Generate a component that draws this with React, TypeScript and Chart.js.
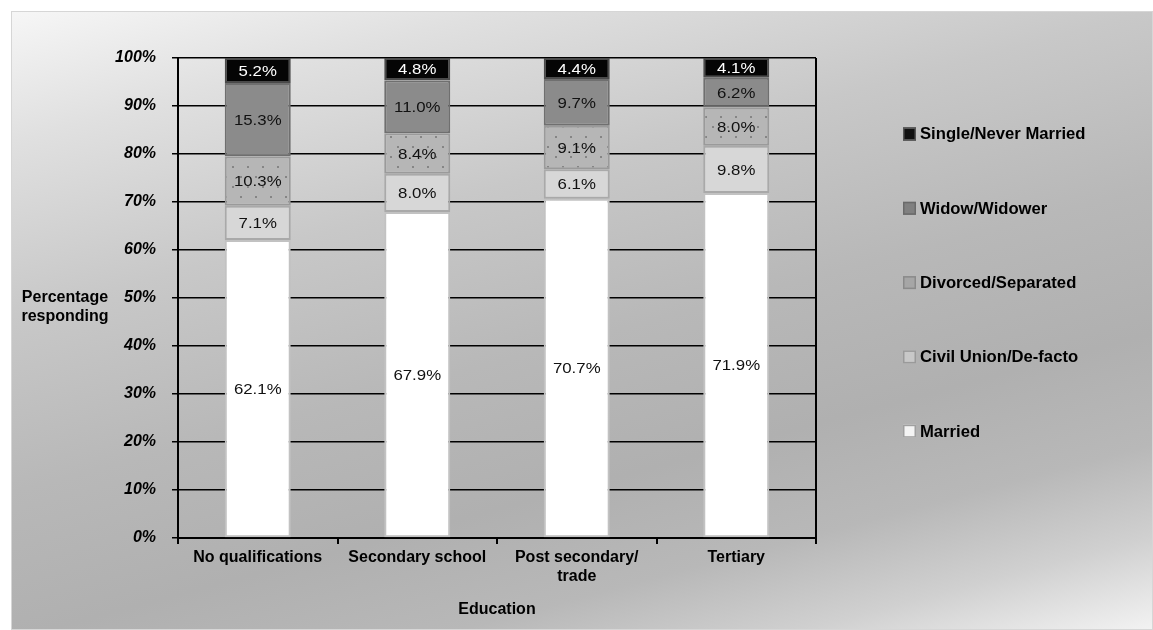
import React, { useEffect, useRef } from "react";
import { Chart, registerables } from "chart.js";

Chart.register(...registerables);

// ---- data ----
const categories: (string | string[])[] = [
  "No qualifications",
  "Secondary school",
  ["Post secondary/", "trade"],
  "Tertiary",
];
const seriesNames = [
  "Married",
  "Civil Union/De-facto",
  "Divorced/Separated",
  "Widow/Widower",
  "Single/Never Married",
];
const married = [62.1, 67.9, 70.7, 71.9];
const civilUnion = [7.1, 8.0, 6.1, 9.8];
const divorced = [10.3, 8.4, 9.1, 8.0];
const widowed = [15.3, 11.0, 9.7, 6.2];
const single = [5.2, 4.8, 4.4, 4.1];
const yTickStep = 10;
const yMax = 100;
const xTitle = "Education";
const yTitleLines = ["Percentage", "responding"];

const FONT = '"Liberation Sans", Arial, sans-serif';

function makeDotPattern(): CanvasPattern | string {
  const c = document.createElement("canvas");
  c.width = 15;
  c.height = 20;
  const g = c.getContext("2d");
  if (!g) return "#b6b6b6";
  g.fillStyle = "#b6b6b6";
  g.fillRect(0, 0, 15, 20);
  g.fillStyle = "#858585";
  g.fillRect(3, 4, 2, 2);
  g.fillRect(10, 14, 2, 2);
  const p = g.createPattern(c, "repeat");
  return p || "#b6b6b6";
}

const valueLabels = {
  id: "valueLabels",
  afterDatasetsDraw(chart: any) {
    const ctx = chart.ctx;
    const n = chart.data.datasets.length;
    chart.data.datasets.forEach((ds: any, di: number) => {
      const meta = chart.getDatasetMeta(di);
      meta.data.forEach((el: any, i: number) => {
        const v = ds.data[i];
        const p = el.getProps(["x", "y", "base"], true);
        const top = Math.max(p.y, chart.chartArea.top);
        ctx.save();
        ctx.font = `15px ${FONT}`;
        ctx.textAlign = "center";
        ctx.textBaseline = "middle";
        ctx.fillStyle = di === n - 1 ? "#ffffff" : "#111111";
        ctx.translate(p.x, (top + p.base) / 2 + 1);
        ctx.scale(1.12, 1);
        ctx.fillText(v.toFixed(1) + "%", 0, 0);
        ctx.restore();
      });
    });
  },
};

const sideTexts = {
  id: "sideTexts",
  afterDraw(chart: any) {
    const ctx = chart.ctx;
    ctx.save();
    // y-axis title (horizontal, two lines)
    ctx.font = `bold 16px ${FONT}`;
    ctx.fillStyle = "#000";
    ctx.textAlign = "center";
    ctx.textBaseline = "middle";
    yTitleLines.forEach((t, i) => ctx.fillText(t, 53, 286 + i * 19));

    // legend (reverse order, top = last dataset)
    const ds = chart.data.datasets;
    const boxX = 891;
    const textX = 908;
    const startY = 122;
    const step = 74.3;
    const box = 13;
    ctx.textAlign = "left";
    for (let k = 0; k < ds.length; k++) {
      const d = ds[ds.length - 1 - k];
      const cy = startY + k * step;
      ctx.fillStyle = d.legendColor;
      ctx.fillRect(boxX, cy - box / 2, box, box);
      ctx.strokeStyle = d.legendBorder;
      ctx.lineWidth = 1.5;
      ctx.strokeRect(boxX + 0.75, cy - box / 2 + 0.75, box - 1.5, box - 1.5);
      ctx.fillStyle = "#000";
      ctx.save();
      ctx.translate(textX, cy + 1);
      ctx.scale(1.04, 1);
      ctx.fillText(d.label, 0, 0);
      ctx.restore();
    }
    ctx.restore();
  },
};

export default function App() {
  const ref = useRef<HTMLCanvasElement | null>(null);

  useEffect(() => {
    if (!ref.current) return;
    const pattern = makeDotPattern();
    const mk = (i: number, data: number[], bg: any, border: string, legendColor: string, legendBorder: string) => ({
      label: seriesNames[i],
      data,
      backgroundColor: bg,
      borderColor: border,
      borderWidth: 2,
      borderSkipped: false,
      legendColor,
      legendBorder,
    });
    const chart = new Chart(ref.current, {
      type: "bar",
      data: {
        labels: categories as any,
        datasets: [
          mk(0, married, "#ffffff", "#c2c2c2", "#f4f4f4", "#a0a0a0"),
          mk(1, civilUnion, "#d7d7d7", "#a9a9a9", "#c8c8c8", "#9a9a9a"),
          mk(2, divorced, pattern, "#9a9a9a", "#a6a6a6", "#8a8a8a"),
          mk(3, widowed, "#8b8b8b", "#6f6f6f", "#808080", "#6a6a6a"),
          mk(4, single, "#050505", "#4a4a4a", "#111111", "#555555"),
        ] as any,
      },
      options: {
        animation: false,
        responsive: false,
        maintainAspectRatio: false,
        layout: { padding: { top: 46, right: 336, bottom: 0, left: 0 } },
        datasets: {
          bar: { categoryPercentage: 1, barPercentage: 0.414 },
        },
        plugins: {
          legend: { display: false },
          tooltip: { enabled: false },
          title: { display: false },
        },
        scales: {
          x: {
            stacked: true,
            grid: {
              offset: true,
              drawOnChartArea: true,
              color: (c: any) => (c.tick ? "rgba(0,0,0,0)" : "#000"),
              tickColor: "#000",
              tickLength: 6,
              lineWidth: 2,
            },
            border: { color: "#000", width: 2 },
            ticks: {
              color: "#000",
              font: { family: FONT, size: 16, weight: "bold" },
              padding: 4,
              maxRotation: 0,
              autoSkip: false,
            },
            title: {
              display: true,
              text: xTitle,
              color: "#000",
              font: { family: FONT, size: 16, weight: "bold" },
              padding: { top: 0, bottom: 10 },
            },
            afterFit: (s: any) => {
              s.height = 91;
            },
          },
          y: {
            stacked: true,
            min: 0,
            max: yMax,
            ticks: {
              stepSize: yTickStep,
              callback: (v: any) => v + "%",
              color: "#000",
              font: { family: FONT, size: 16, weight: "bold", style: "italic" },
              padding: 16,
            },
            grid: { color: "#000", lineWidth: 1.5, tickLength: 6, tickColor: "#000" },
            border: { color: "#000", width: 2 },
            afterFit: (s: any) => {
              s.width = 166;
            },
          },
        },
      } as any,
      plugins: [valueLabels, sideTexts],
    });
    return () => chart.destroy();
  }, []);

  return (
    <div
      style={{
        position: "absolute",
        left: 11,
        top: 11,
        width: 1142,
        height: 619,
        boxSizing: "border-box",
        border: "1px solid #d6d6d6",
        background:
          "linear-gradient(165deg, #f6f6f6 0%, #e0e0e0 14%, #c8c8c8 33%, #b8b8b8 52%, #b0b0b0 68%, #b8b8b8 80%, #d0d0d0 90%, #f2f2f2 100%)",
        overflow: "hidden",
      }}
    >
      <canvas ref={ref} width={1140} height={617} style={{ display: "block" }} />
    </div>
  );
}
